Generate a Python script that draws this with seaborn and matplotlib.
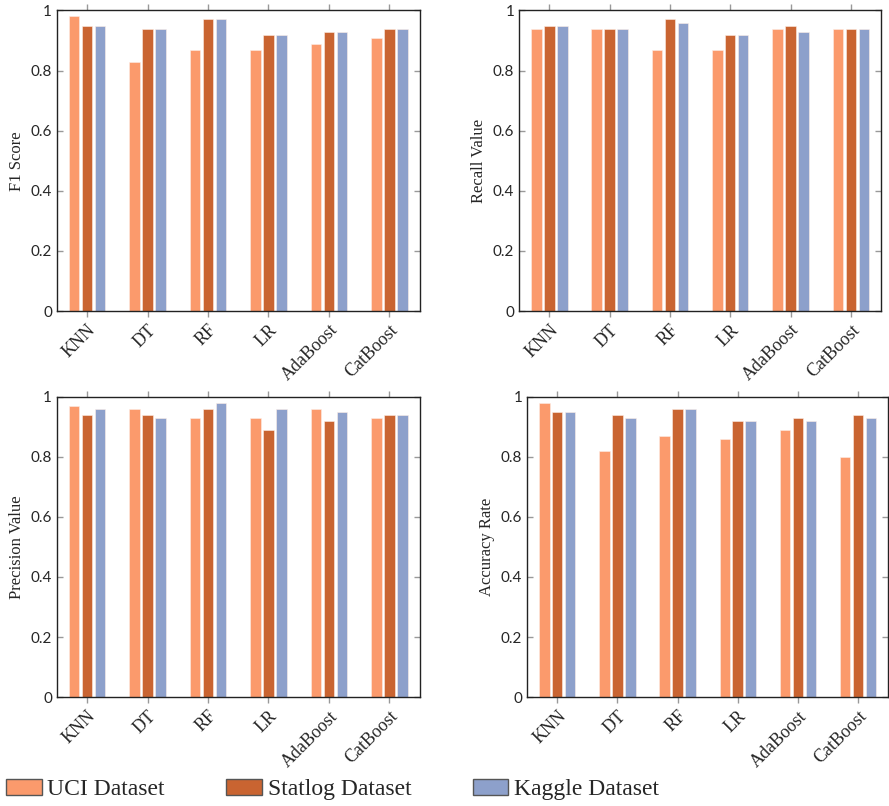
import pandas as pd
import matplotlib.pyplot as plt
import seaborn as sns
from matplotlib.patches import Patch

models = ['KNN', 'DT', 'RF', 'LR', 'AdaBoost', 'CatBoost']
datasets = ['UCI Dataset', 'Statlog Dataset', 'Kaggle Dataset']
colors = ['#FB9A6C', '#C96431', '#8DA0CB']

f1_uci = [0.98, 0.83, 0.87, 0.87, 0.89, 0.91]
f1_statlog = [0.95, 0.94, 0.97, 0.92, 0.93, 0.94]
f1_kaggle = [0.95, 0.94, 0.97, 0.92, 0.93, 0.94]

recall_uci = [0.94, 0.94, 0.87, 0.87, 0.94, 0.94]
recall_statlog = [0.95, 0.94, 0.97, 0.92, 0.95, 0.94]
recall_kaggle = [0.95, 0.94, 0.96, 0.92, 0.93, 0.94]

prec_uci = [0.97, 0.96, 0.93, 0.93, 0.96, 0.93]
prec_statlog = [0.94, 0.94, 0.96, 0.89, 0.92, 0.94]
prec_kaggle = [0.96, 0.93, 0.98, 0.96, 0.95, 0.94]

acc_uci = [0.98, 0.82, 0.87, 0.86, 0.89, 0.80]
acc_statlog = [0.95, 0.94, 0.96, 0.92, 0.93, 0.94]
acc_kaggle = [0.95, 0.93, 0.96, 0.92, 0.92, 0.93]


def make_df(uci, statlog, kaggle):
    rows = []
    for name, vals in zip(datasets, [uci, statlog, kaggle]):
        for m, v in zip(models, vals):
            rows.append({'model': m, 'dataset': name, 'value': v})
    return pd.DataFrame(rows)


def draw_panel(ax, data, ylabel):
    sns.barplot(data=data, x='model', y='value', hue='dataset', hue_order=datasets,
                palette=colors, width=0.645, gap=0.19, ax=ax, legend=False,
                edgecolor='#fdeee6', linewidth=0.4, saturation=1)
    ax.set_xlim(-0.5, 5.5)
    ax.set_ylim(0, 1)
    ax.set_yticks([0, 0.2, 0.4, 0.6, 0.8, 1])
    ax.set_yticklabels(['0', '0.2', '0.4', '0.6', '0.8', '1'], fontfamily='Lato', fontsize=11)
    ax.set_xticks(range(len(models)))
    ax.set_xticklabels(models, rotation=45, ha='right', rotation_mode='anchor',
                       fontfamily='Liberation Serif', fontsize=13)
    ax.set_xlabel('')
    ax.set_ylabel(ylabel, fontfamily='Liberation Serif', fontsize=12)
    ax.tick_params(axis='x', direction='out', top=True, bottom=True, length=4,
                   color='#999999', width=1)
    ax.tick_params(axis='y', direction='in', left=True, right=True, length=4,
                   color='#999999', width=1)
    for s in ax.spines.values():
        s.set_color('#222222')
        s.set_linewidth(1)


sns.set_style('white')
fig = plt.figure(figsize=(8.89, 8.06), dpi=100)

ax1 = fig.add_axes([0.064, 0.614, 0.408, 0.373])
ax2 = fig.add_axes([0.584, 0.614, 0.407, 0.373])
ax3 = fig.add_axes([0.064, 0.135, 0.408, 0.373])
ax4 = fig.add_axes([0.593, 0.135, 0.406, 0.373])

draw_panel(ax1, make_df(f1_uci, f1_statlog, f1_kaggle), 'F1 Score')
draw_panel(ax2, make_df(recall_uci, recall_statlog, recall_kaggle), 'Recall Value')
draw_panel(ax3, make_df(prec_uci, prec_statlog, prec_kaggle), 'Precision Value')
draw_panel(ax4, make_df(acc_uci, acc_statlog, acc_kaggle), 'Accuracy Rate')

handles = [Patch(facecolor=c, edgecolor='#555555', linewidth=1) for c in colors]
fig.legend(handles, datasets, loc='center left', bbox_to_anchor=(-0.017, 0.02), ncol=3,
           frameon=False, prop={'family': 'Liberation Serif', 'size': 17},
           handlelength=1.5, handleheight=0.62, handletextpad=0.25, columnspacing=2.6)

fig.savefig('out.png', dpi=100)
